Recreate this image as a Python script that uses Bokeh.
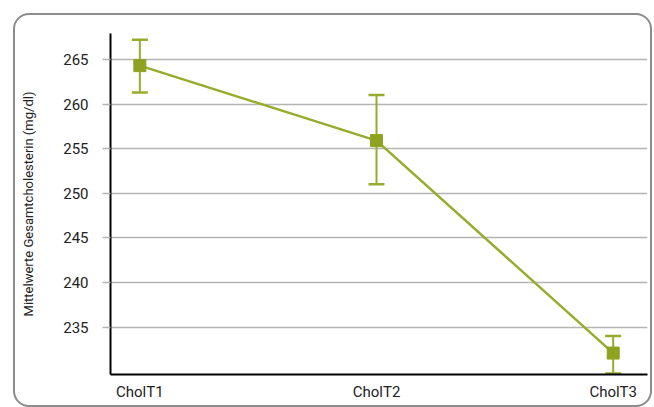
from bokeh.plotting import figure
from bokeh.models import ColumnDataSource, Whisker, TeeHead, FixedTicker, Range1d
from bokeh.embed import file_html
from bokeh.resources import INLINE

# ---- data ----
categories = ["CholT1", "CholT2", "CholT3"]
means = [264.3, 255.9, 232.1]
upper = [267.2, 261.0, 234.0]
lower = [261.3, 251.0, 229.8]
y_ticks = [235, 240, 245, 250, 255, 260, 265]
y_label = "Mittelwerte Gesamtcholesterin (mg/dl)"

xs = list(range(len(categories)))
src = ColumnDataSource(dict(x=xs, mean=means, upper=upper, lower=lower))

GREEN = "#8FA320"
GREEN_LIGHT = "#97AB2C"
FONT = "Roboto"
TEXT = "#222222"

p = figure(width=639, height=394, output_backend="svg", toolbar_location=None,
           x_range=Range1d(-0.124, 2.145), y_range=Range1d(229.7, 267.9),
           min_border_left=95, min_border_top=18, min_border_right=7, min_border_bottom=35)
p.margin = (13, 0, 0, 13)
p.styles = {"border": "2px solid #8c8c8c", "border-radius": "16px",
            "overflow": "hidden", "box-sizing": "border-box"}

p.outline_line_color = None
p.background_fill_color = None
p.border_fill_color = None

# grid
p.xgrid.grid_line_color = None
p.ygrid.grid_line_color = "#b4b4b4"
p.ygrid.grid_line_width = 1.5
p.ygrid.ticker = FixedTicker(ticks=y_ticks)

# y axis
p.yaxis.ticker = FixedTicker(ticks=y_ticks)
p.yaxis.axis_line_color = "black"
p.yaxis.axis_line_width = 2
p.yaxis.major_tick_line_color = "#b4b4b4"
p.yaxis.major_tick_line_width = 1.5
p.yaxis.major_tick_out = 8
p.yaxis.major_tick_in = 0
p.yaxis.minor_tick_line_color = None
p.yaxis.major_label_standoff = 14
p.yaxis.major_label_text_font = FONT
p.yaxis.major_label_text_font_size = "15px"
p.yaxis.major_label_text_color = TEXT
p.yaxis.axis_label = y_label
p.yaxis.axis_label_text_font = FONT
p.yaxis.axis_label_text_font_size = "13px"
p.yaxis.axis_label_text_font_style = "normal"
p.yaxis.axis_label_text_color = TEXT
p.yaxis.axis_label_standoff = 24

# x axis
p.xaxis.ticker = FixedTicker(ticks=xs)
p.xaxis.major_label_overrides = {i: c for i, c in zip(xs, categories)}
p.xaxis.axis_line_color = "black"
p.xaxis.axis_line_width = 2
p.xaxis.major_tick_line_color = None
p.xaxis.major_tick_out = 0
p.xaxis.major_tick_in = 0
p.xaxis.minor_tick_line_color = None
p.xaxis.major_label_standoff = 8
p.xaxis.major_label_text_font = FONT
p.xaxis.major_label_text_font_size = "15px"
p.xaxis.major_label_text_color = TEXT

# data
p.line("x", "mean", source=src, line_color=GREEN_LIGHT, line_width=2.5)
w = Whisker(base="x", upper="upper", lower="lower", source=src, dimension="height",
            line_color=GREEN_LIGHT, line_width=2,
            upper_head=TeeHead(size=16, line_color=GREEN_LIGHT, line_width=2.5),
            lower_head=TeeHead(size=16, line_color=GREEN_LIGHT, line_width=2.5))
p.add_layout(w)
p.scatter("x", "mean", source=src, marker="square", size=12,
          fill_color=GREEN, line_color=GREEN)

open("out.html", "w").write(file_html(p, INLINE))
